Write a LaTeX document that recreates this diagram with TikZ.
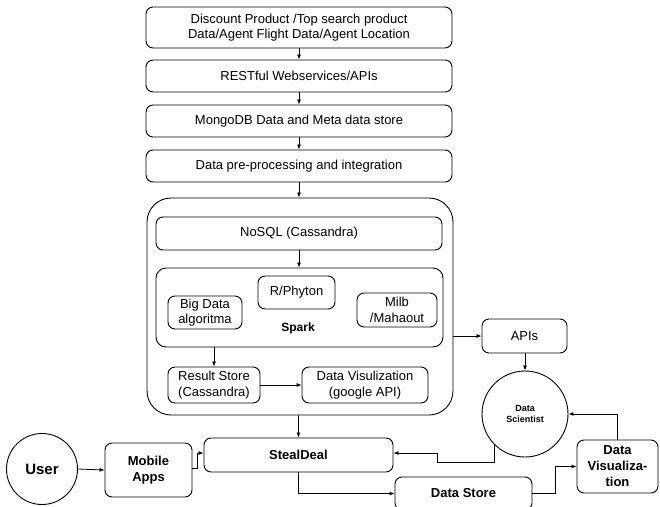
\documentclass[tikz,border=0pt]{standalone}
\usepackage{fontspec}
\setmainfont{Liberation Sans}
\usetikzlibrary{arrows.meta,calc}
\begin{document}
\begin{tikzpicture}[x=1pt,y=-1pt,
  box/.style={draw,rounded corners=7pt,line width=0.9pt,align=center,inner sep=0pt,font=\fontsize{13}{15.5}\selectfont},
  bbox/.style={box,font=\fontsize{13}{16}\selectfont\bfseries},
  circ/.style={draw,circle,line width=0.9pt,inner sep=0pt,align=center},
  arr/.style={-{Latex[length=5pt,width=4pt]},line width=0.8pt},
]
\useasboundingbox (0,0) rectangle (660,506);
\clip (0,0) rectangle (660,506);
% top chain
\node[box,minimum width=306pt,minimum height=41pt] (b1) at (299,27.5) {Discount Product /Top search product\\Data/Agent Flight Data/Agent Location};
\node[box,minimum width=306pt,minimum height=32pt] (b2) at (299,76) {RESTful Webservices/APIs};
\node[box,minimum width=306pt,minimum height=32pt] (b3) at (299,121) {MongoDB Data and Meta data store};
\node[box,minimum width=306pt,minimum height=32pt] (b4) at (299,166) {Data pre-processing and integration};
% outer container
\node[draw,rounded corners=24pt,line width=0.9pt,minimum width=306pt,minimum height=217pt,inner sep=0pt] (outer) at (300,306.5) {};
\node[box,minimum width=286pt,minimum height=33pt] (nosql) at (299,233.5) {NoSQL (Cassandra)};
\node[box,rounded corners=10pt,minimum width=287pt,minimum height=79pt] (spark) at (299.5,307.5) {};
\node[font=\fontsize{12}{14}\selectfont\bfseries] (sparklbl) at (298,328) {Spark};
\node[box,minimum width=77pt,minimum height=33pt] (rp) at (296.5,292.5) {R/Phyton};
\node[box,minimum width=74pt,minimum height=33pt] (bda) at (205,312.5) {Big Data\\algoritma};
\node[box,minimum width=80pt,minimum height=34pt] (milb) at (397,310) {Milb\\/Mahaout};
\node[box,minimum width=92pt,minimum height=36pt] (rs) at (214,385) {Result Store\\(Cassandra)};
\node[box,minimum width=126pt,minimum height=36pt] (dviz) at (365,385) {Data Visulization\\(google API)};
% right side
\node[box,minimum width=85pt,minimum height=34pt] (apis) at (524.5,336) {APIs};
\node[circ,minimum size=86pt,font=\fontsize{9}{11}\selectfont\bfseries] (ds) at (525,414) {Data\\Scientist};
\node[bbox,minimum width=81pt,minimum height=53pt,font=\fontsize{13}{16}\selectfont\bfseries] (dv) at (617.5,466.5) {Data\\Visualiza-\\tion};
% bottom
\node[bbox,minimum width=189pt,minimum height=34pt] (sd) at (298.5,455) {StealDeal};
\node[bbox,minimum width=137pt,minimum height=33pt] (store) at (463.5,493.5) {Data Store};
\node[circ,minimum size=71pt,font=\fontsize{15}{17}\selectfont\bfseries] (user) at (42,469) {User};
\node[bbox,minimum width=87pt,minimum height=54pt] (ma) at (148.5,470) {Mobile\\Apps};
% bend points
\coordinate (k1) at (437,462);
\coordinate (k2) at (437,453);
% connectors
\draw[arr] (b1.south) -- (b2.north);
\draw[arr] (b2.south) -- (b3.north);
\draw[arr] (b3.south) -- (b4.north);
\draw[arr] (b4.south) -- (b4.south |- outer.north);
\draw[arr] (nosql.south) -- (nosql.south |- spark.north);
\draw[arr] (rs.north |- spark.south) -- (rs.north);
\draw[arr] (rs.east) -- (dviz.west);
\draw[arr] (outer.east |- apis.west) -- (apis.west);
\draw[arr] (apis.south -| ds.north) -- (ds.north);
\draw[arr] (outer.south -| sd.north) -- (sd.north);
\draw[arr] (user.east) -- (ma.west);
\draw[arr] ([yshift=2pt]ma.east) -- ++(5,0) |- ([yshift=2pt]sd.west);
\draw[arr] (ds.225) |- (k1) -- (k2) -- (k2 -| sd.east);
\draw[arr] (dv.north) |- (ds.east);
\draw[arr] (sd.south) |- (store.west);
\draw[arr] (store.east) -- ++(23,0) |- (dv.west);
\end{tikzpicture}
\end{document}
